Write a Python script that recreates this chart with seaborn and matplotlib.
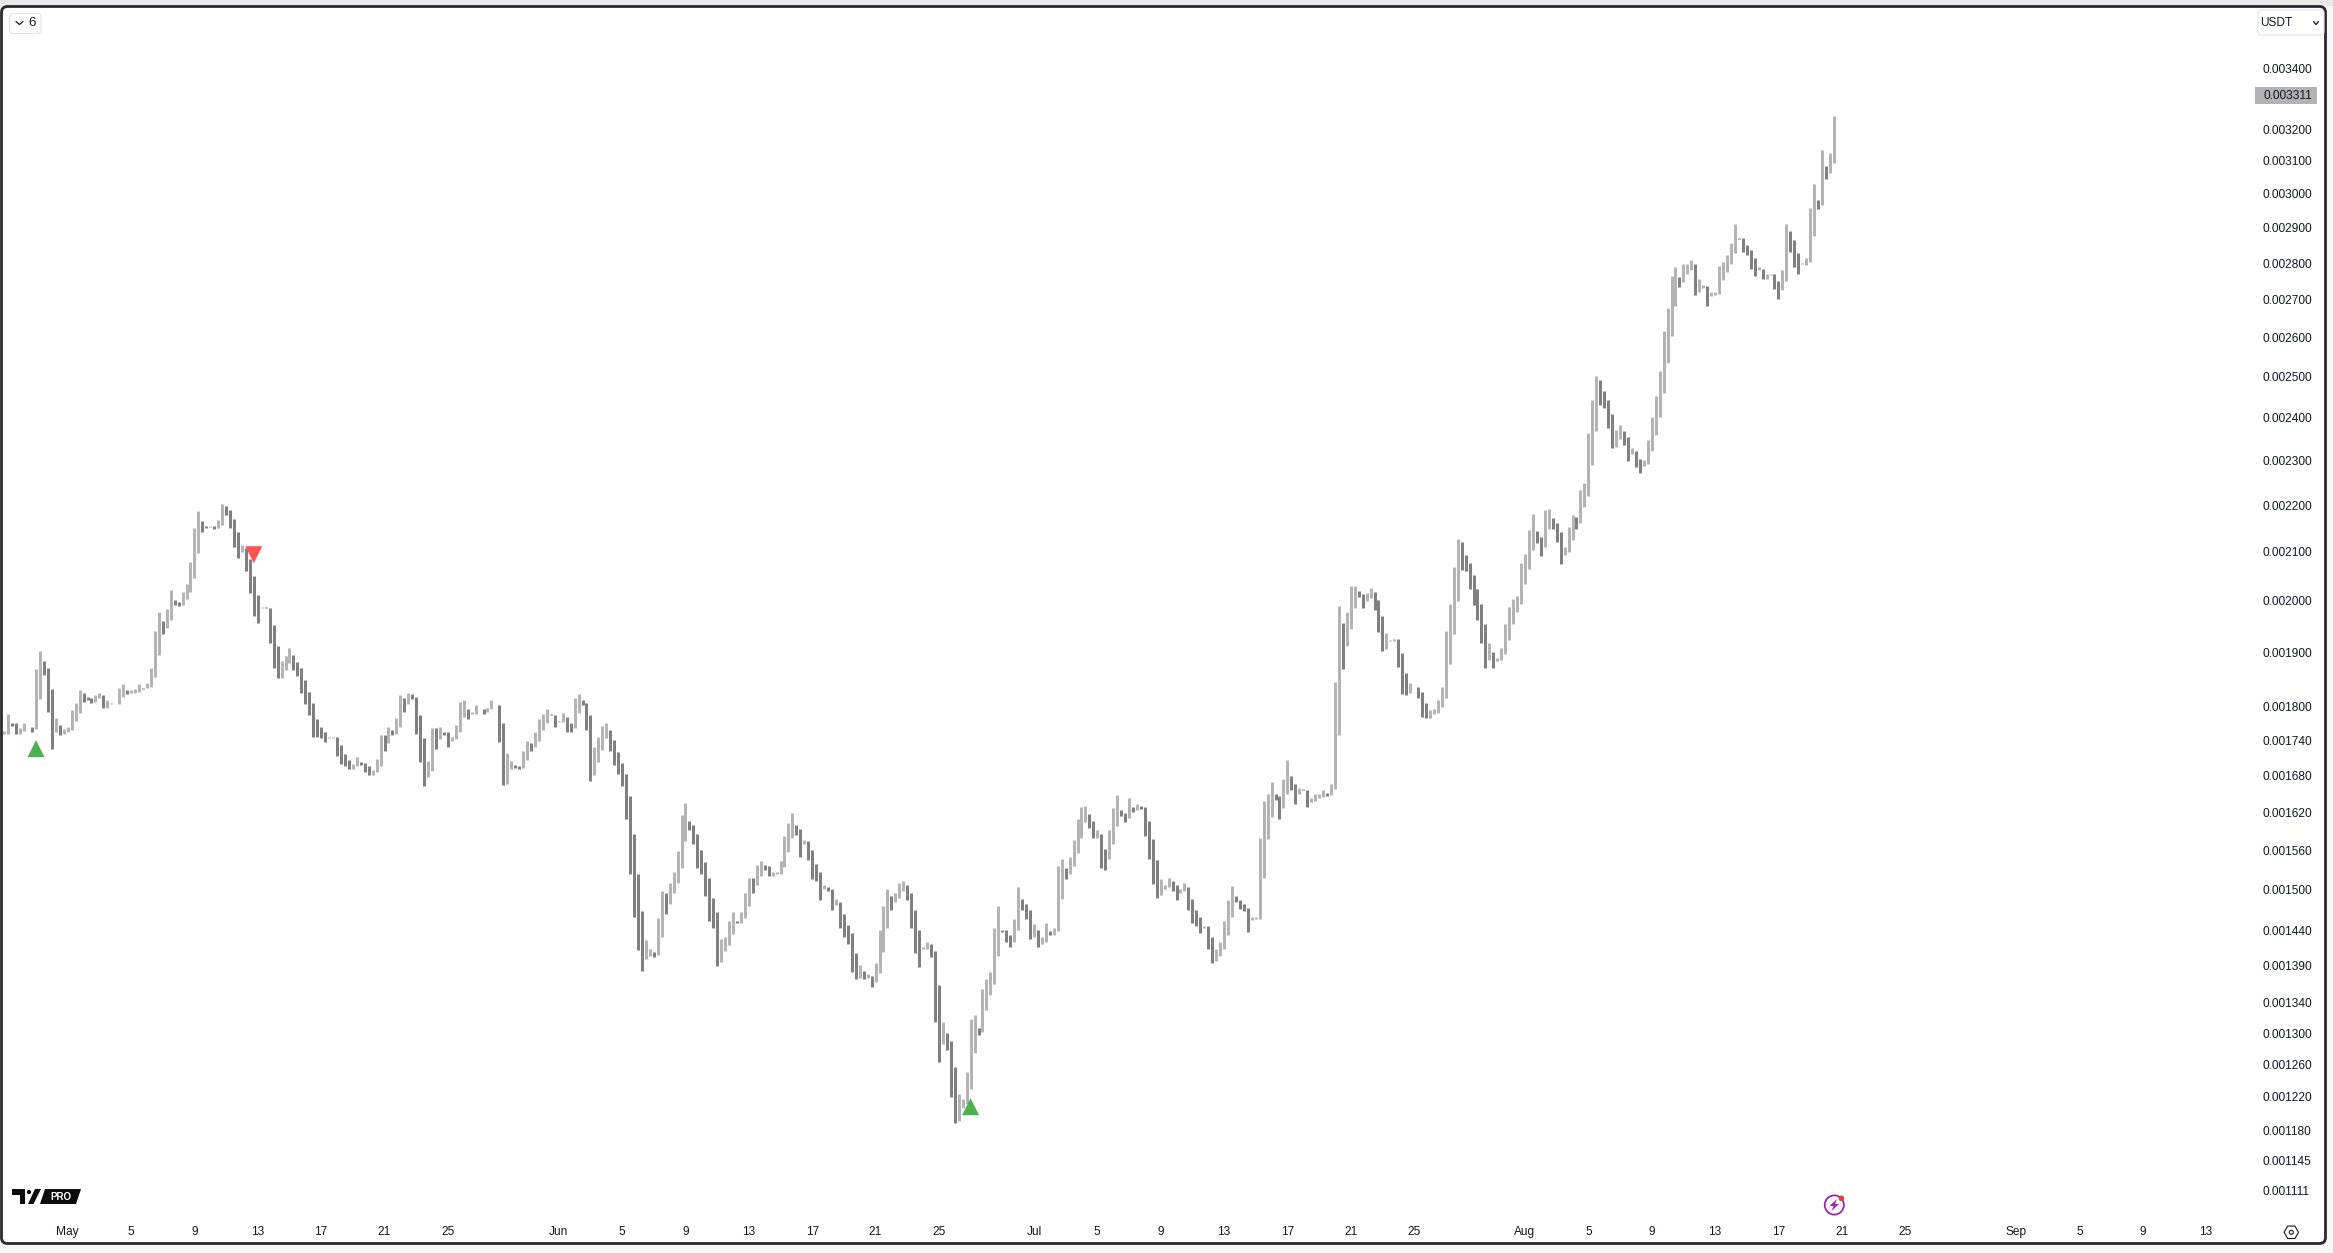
import numpy as np
import pandas as pd
import matplotlib
matplotlib.use("Agg")
import matplotlib.pyplot as plt
from matplotlib.patches import FancyBboxPatch, Polygon, Circle, RegularPolygon, Rectangle
from matplotlib.ticker import NullLocator, FixedLocator, FixedFormatter
import seaborn as sns

# Bar ranges in millionths of USDT, one bar every 6 hours from 27 April
highs = [
 1757,1786,1770,1770,1761,1771,1764,1764,1868,1903,
 1883,1870,1831,1779,1768,1760,1763,1793,1807,1829,
 1825,1818,1815,1820,1824,1820,1811,1806,1807,1833,
 1840,1829,1829,1831,1840,1834,1842,1870,1940,1978,
 1961,1984,2022,2001,1997,2017,2033,2078,2150,2187,
 2165,2154,2154,2154,2167,2202,2198,2189,2169,2141,
 2115,2109,2084,2051,2011,1987,1987,1985,1952,1911,
 1883,1892,1909,1894,1881,1870,1849,1827,1806,1777,
 1763,1754,1747,1747,1747,1732,1717,1707,1699,1711,
 1704,1701,1696,1689,1708,1749,1749,1764,1758,1780,
 1820,1816,1824,1822,1818,1784,1745,1705,1762,1762,
 1764,1755,1754,1747,1768,1809,1811,1796,1791,1802,
 1796,1796,1798,1811,1803,1802,1771,1719,1705,1698,
 1697,1722,1740,1735,1755,1778,1786,1795,1786,1784,
 1775,1788,1782,1770,1815,1822,1811,1807,1784,1728,
 1747,1766,1771,1759,1741,1720,1702,1683,1646,1585,
 1524,1468,1427,1414,1410,1458,1498,1495,1510,1526,
 1558,1615,1635,1606,1599,1585,1560,1541,1518,1487,
 1466,1428,1431,1453,1466,1454,1467,1495,1518,1518,
 1537,1543,1537,1535,1527,1526,1543,1582,1603,1619,
 1599,1593,1576,1574,1560,1538,1526,1507,1504,1501,
 1486,1482,1464,1448,1436,1408,1391,1383,1379,1376,
 1394,1441,1475,1501,1491,1495,1509,1512,1506,1495,
 1470,1440,1416,1424,1420,1411,1364,1314,1300,1290,
 1257,1223,1217,1250,1319,1323,1307,1358,1372,1382,
 1444,1475,1440,1440,1433,1456,1503,1486,1479,1469,
 1449,1441,1430,1450,1439,1444,1536,1547,1533,1549,
 1576,1609,1628,1630,1617,1606,1592,1586,1561,1592,
 1627,1648,1623,1618,1643,1628,1633,1630,1628,1606,
 1577,1544,1516,1506,1518,1512,1506,1501,1509,1504,
 1486,1469,1459,1447,1446,1430,1413,1424,1454,1485,
 1505,1490,1485,1478,1473,1459,1460,1579,1638,1650,
 1670,1650,1646,1675,1707,1679,1667,1659,1658,1656,
 1643,1650,1650,1656,1651,1667,1844,1990,1956,1978,
 2030,2030,2020,2014,2016,2026,2018,2002,1970,1937,
 1923,1925,1925,1898,1862,1842,1836,1835,1827,1806,
 1793,1795,1811,1835,1941,1994,2068,2127,2121,2093,
 2076,2052,2024,1994,1954,1917,1900,1889,1908,1954,
 1988,2004,2010,2076,2095,2146,2181,2144,2131,2190,
 2192,2172,2161,2142,2110,2153,2178,2175,2234,2248,
 2363,2444,2501,2491,2464,2444,2409,2370,2382,2368,
 2354,2328,2323,2304,2302,2348,2401,2452,2514,2616,
 2677,2764,2788,2761,2797,2797,2808,2797,2755,2739,
 2736,2720,2720,2791,2802,2822,2858,2910,2870,2870,
 2850,2838,2813,2788,2785,2771,2769,2769,2750,2780,
 2910,2892,2864,2828,2799,2813,2957,3030,2981,3134,
 3084,3124,3242,
]
lows = [
 1751,1752,1766,1752,1752,1756,1763,1754,1760,1813,
 1857,1791,1725,1754,1749,1751,1754,1758,1775,1789,
 1809,1811,1806,1809,1815,1798,1798,1804,1806,1804,
 1818,1822,1825,1825,1827,1831,1833,1836,1853,1894,
 1934,1946,1963,1991,1989,1991,2003,2017,2045,2097,
 2141,2150,2152,2148,2150,2156,2178,2150,2111,2088,
 2099,2060,2015,1969,1957,1985,1985,1917,1870,1851,
 1851,1866,1879,1866,1855,1825,1804,1784,1747,1747,
 1745,1737,1745,1745,1713,1699,1696,1692,1692,1696,
 1698,1687,1682,1682,1686,1696,1722,1735,1749,1752,
 1764,1791,1804,1813,1751,1704,1663,1678,1688,1726,
 1743,1750,1729,1740,1743,1755,1782,1777,1786,1787,
 1795,1787,1791,1795,1802,1738,1664,1666,1691,1693,
 1691,1693,1707,1722,1728,1740,1759,1771,1784,1764,
 1773,1773,1755,1755,1761,1788,1803,1759,1671,1682,
 1703,1724,1745,1722,1698,1683,1663,1609,1523,1460,
 1412,1383,1400,1404,1403,1405,1431,1464,1479,1494,
 1509,1533,1574,1591,1569,1533,1523,1491,1454,1444,
 1390,1395,1411,1419,1435,1450,1451,1458,1476,1495,
 1506,1521,1530,1520,1521,1524,1524,1534,1557,1579,
 1584,1549,1569,1545,1515,1512,1485,1500,1497,1470,
 1477,1444,1431,1421,1382,1372,1373,1372,1373,1361,
 1368,1380,1410,1443,1470,1481,1488,1497,1484,1444,
 1408,1389,1413,1413,1403,1315,1263,1286,1278,1220,
 1188,1191,1206,1211,1230,1274,1297,1302,1330,1350,
 1365,1404,1438,1423,1417,1424,1440,1470,1456,1428,
 1431,1417,1420,1424,1433,1434,1439,1486,1516,1524,
 1536,1555,1579,1604,1595,1579,1579,1532,1529,1546,
 1569,1598,1614,1604,1611,1620,1623,1625,1582,1546,
 1508,1488,1492,1501,1503,1498,1485,1495,1497,1469,
 1450,1446,1436,1443,1413,1394,1397,1404,1414,1433,
 1459,1481,1471,1468,1438,1455,1456,1457,1517,1577,
 1612,1640,1609,1627,1650,1656,1633,1650,1656,1628,
 1636,1638,1643,1645,1646,1648,1658,1750,1868,1911,
 1945,1986,2008,1986,2000,2006,1982,1939,1902,1906,
 1921,1921,1872,1822,1820,1825,1835,1816,1782,1779,
 1780,1786,1789,1799,1816,1877,1935,2000,2062,2060,
 2024,1992,1962,1917,1870,1885,1870,1883,1885,1896,
 1923,1954,1978,1994,2033,2064,2104,2118,2091,2110,
 2148,2148,2120,2074,2093,2100,2124,2149,2162,2197,
 2221,2290,2368,2432,2423,2375,2328,2332,2351,2337,
 2300,2314,2286,2272,2288,2293,2321,2360,2403,2459,
 2536,2605,2682,2733,2747,2769,2782,2712,2720,2731,
 2682,2709,2712,2714,2752,2774,2797,2828,2867,2830,
 2822,2785,2764,2782,2755,2757,2766,2728,2703,2725,
 2750,2830,2788,2769,2797,2794,2802,2878,2954,2966,
 3045,3063,3093,
]
directions = list(
 "UUDDUUDDUU" "DDDUDUUUUU" "DDDUUDUUUU" "UDUUUDUUUU" "DUUDDUUUUU"
 "DDUDUUDDDD" "UDDDDUDDDD" "UUUDDDDDDD" "DDUUDDDDUU" "DDDUUUDUDU"
 "UDUDDDDUUD" "UDDUUUUDUU" "DDUUDDDUUD" "DUUDUUUUDD" "UUDDUUDDDU"
 "UUUDDDDDDD" "DDUUDUUDUU" "UUUDDDDDDD" "DUUUUDUUUD" "UUDDUUUUUU"
 "DDUDDDDUDD" "UDDDDDUDUD" "UUUUDUUUDD" "DDUUDDDUDD" "DUUUUUDUUU"
 "UUDDDUUDDD" "UDUUDUUUDU" "UUUUDDUDDU" "UUDDUDUDDD" "DDUUUDDUUD"
 "DDDUDDUUUU" "UDDDDUUUUU" "UDDUUDDUDD" "UUUUDUUUDU" "UUDDUUDDDU"
 "UUDDDUUDDD" "UUUUUUUUDD" "DDDDDUDUUU" "UUUUUUUDDU" "UDDDUUUDUU"
 "UUUDDDDUUD" "DUDDUUUUUU" "UUUDUUUDUU" "DUUUUUUUDD" "DDDUDUUDDU"
 "UDDDUUUUDU" "DUU"
)
price_ticks = [3400, 3200, 3100, 3000, 2900, 2800, 2700, 2600, 2500, 2400, 2300,
               2200, 2100, 2000, 1900, 1800, 1740, 1680, 1620, 1560, 1500, 1440,
               1390, 1340, 1300, 1260, 1220, 1180, 1145, 1111]
last_price = 3311
date_ticks = ["05-01","05-05","05-09","05-13","05-17","05-21","05-25",
              "06-01","06-05","06-09","06-13","06-17","06-21","06-25",
              "07-01","07-05","07-09","07-13","07-17","07-21","07-25",
              "08-01","08-05","08-09","08-13","08-17","08-21","08-25",
              "09-01","09-05","09-09","09-13"]
date_labels = ["May","5","9","13","17","21","25",
               "Jun","5","9","13","17","21","25",
               "Jul","5","9","13","17","21","25",
               "Aug","5","9","13","17","21","25",
               "Sep","5","9","13"]
signal_times = ["2024-04-29 00:00", "2024-05-12 18:00", "2024-06-27 00:00"]
signal_prices = [1726, 2094, 1208]
signal_kinds = ["buy", "sell", "buy"]

W, H = 2333, 1253
UP, DOWN = "#b4b4b4", "#808080"

sns.set_theme(style="white")
plt.rcParams["font.family"] = ["Liberation Sans", "DejaVu Sans"]
fig = plt.figure(figsize=(W / 100, H / 100), dpi=100, facecolor="#f6f6f6")

def px_axes(z):
    a = fig.add_axes([0, 0, 1, 1], zorder=z, facecolor="none")
    a.set_xlim(0, W); a.set_ylim(H, 0); a.axis("off")
    return a

bg = px_axes(0)
bg.add_patch(Rectangle((0, 0), W, 6, color="#e9e9e9", lw=0))
bg.add_patch(FancyBboxPatch((3, 8), 2321, 1234, boxstyle="round,pad=0,rounding_size=6",
                            fc="white", ec="none"))

# Main axes: x in days, y logarithmic
L, R, T, B = 2, 2255, 7, 1215
ax = fig.add_axes([L / W, 1 - B / H, (R - L) / W, (B - T) / H], zorder=1, facecolor="none")

times = pd.date_range("2024-04-27", periods=len(highs), freq="6h")
frame = pd.DataFrame({
    "time": np.tile(times, 2),
    "bar": np.tile(np.arange(len(highs)), 2),
    "price": np.r_[highs, lows] * 1e-6,
    "dir": directions * 2,
})
sns.lineplot(data=frame, x="time", y="price", hue="dir", units="bar", estimator=None,
             palette={"U": UP, "D": DOWN}, linewidth=2.16, solid_capstyle="butt",
             sort=False, legend=False, ax=ax)
for line in ax.get_lines():
    line.set_snap(True)

signals = pd.DataFrame({"time": pd.to_datetime(signal_times),
                        "price": np.array(signal_prices) * 1e-6,
                        "kind": signal_kinds})
sns.scatterplot(data=signals, x="time", y="price", hue="kind", style="kind",
                palette={"buy": "#4caf50", "sell": "#ff5252"},
                markers={"buy": "^", "sell": "v"}, s=150, linewidth=0,
                legend=False, zorder=5, ax=ax)

ax.set_yscale("log")
scale = 1003.5
price_at = lambda y: 3400e-6 * np.exp(-(y - 68.3) / scale)
ax.set_ylim(price_at(B), price_at(T))
may1 = pd.Timestamp("2024-05-01")
day_px = 15.84
ax.set_xlim(may1 + pd.Timedelta(days=(L - 67.7) / day_px),
            may1 + pd.Timedelta(days=(R - 67.7) / day_px))

ax.yaxis.tick_right()
ax.yaxis.set_major_locator(FixedLocator([p * 1e-6 for p in price_ticks]))
ax.yaxis.set_major_formatter(FixedFormatter([f"{p * 1e-6:.6f}" for p in price_ticks]))
ax.yaxis.set_minor_locator(NullLocator())
ax.set_xticks(pd.to_datetime(["2024-" + d for d in date_ticks]))
ax.set_xticklabels(date_labels)
ax.tick_params(axis="both", which="both", length=0, labelsize=8.6, colors="#131722")
ax.tick_params(axis="y", pad=5.7)
ax.tick_params(axis="x", pad=8)
ax.set_xlabel(""); ax.set_ylabel("")
for s in ax.spines.values():
    s.set_visible(False)
ax.grid(False)

# Price tag of the last bar
top = px_axes(2)
y_tag = 95.7
top.add_patch(Rectangle((2255, y_tag - 8.5), 62, 17, fc="#b2b2b2", ec="none"))
top.text(2263, y_tag, f"{last_price * 1e-6:.6f}", fontsize=8.6, color="#131722", va="center", ha="left")

# Chart frame
top.add_patch(FancyBboxPatch((1.5, 6.5), 2324, 1237, boxstyle="round,pad=0,rounding_size=6",
                             fc="none", ec="#2a2a2e", lw=2.0))

# Controls
def button(x0, y0, x1, y1):
    top.add_patch(FancyBboxPatch((x0, y0), x1 - x0, y1 - y0, boxstyle="round,pad=0,rounding_size=3",
                                 fc="white", ec="#e0e3eb", lw=0.8))
def chevron(x, y, size=3.5):
    top.plot([x - size, x, x + size], [y - 1.5, y + 1.5, y - 1.5], color="#131722", lw=0.9)

button(9.5, 13.5, 41, 33.5); chevron(19.5, 23)
top.text(32, 23.5, "6", fontsize=9.6, color="#131722", ha="center", va="center")
button(2258, 10, 2324, 35); chevron(2316, 23, 2.5)
top.text(2276, 22.5, "USDT", fontsize=8.6, color="#131722", ha="center", va="center")

# Logo
top.add_patch(Polygon([(12, 1189), (25, 1189), (25, 1204), (20, 1204), (20, 1195), (12, 1195)], fc="#0d0d0d", ec="none"))
top.add_patch(Circle((29, 1192), 2.1, fc="#0d0d0d", ec="none"))
top.add_patch(Polygon([(35, 1189), (41, 1189), (33.5, 1204), (28, 1204)], fc="#0d0d0d", ec="none"))
top.add_patch(Polygon([(45, 1189), (81, 1189), (76, 1204), (40, 1204)], fc="#0d0d0d", ec="none"))
top.text(61, 1196.6, "PRO", fontsize=7, fontweight="bold", color="white", ha="center", va="center")

# Lightning badge
top.add_patch(Circle((1834.3, 1205), 9.6, fc="white", ec="#9c27b0", lw=1.3))
top.add_patch(Polygon([(1837, 1199), (1829.5, 1206), (1833.5, 1206), (1831.5, 1211), (1839, 1204), (1835, 1204)],
                      fc="#9c27b0", ec="none"))
top.add_patch(Circle((1841.3, 1198.3), 2.8, fc="#f23645", ec="none"))

# Settings hexagon
top.add_patch(RegularPolygon((2291.3, 1232.3), 6, radius=7.2, orientation=np.pi / 2,
                             fc="none", ec="#131722", lw=0.8))
top.add_patch(Circle((2291.3, 1232.3), 2.0, fc="none", ec="#131722", lw=0.8))

fig.savefig("out.png", dpi=100, facecolor=fig.get_facecolor())
